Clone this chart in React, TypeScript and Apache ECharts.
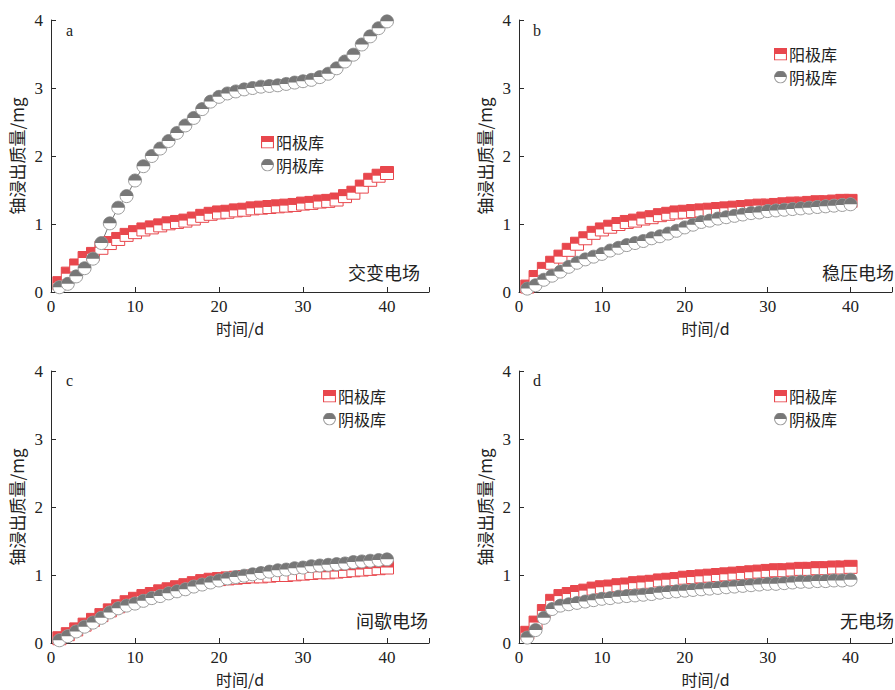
import React, { useEffect, useRef } from "react";
import * as echarts from "echarts";

const days = [1, 2, 3, 4, 5, 6, 7, 8, 9, 10, 11, 12, 13, 14, 15, 16, 17, 18, 19, 20, 21, 22, 23, 24, 25, 26, 27, 28, 29, 30, 31, 32, 33, 34, 35, 36, 37, 38, 39, 40];

const xTicks = [0, 10, 20, 30, 40];
const yTicks = [0, 1, 2, 3, 4];

const anodeA = [0.13, 0.27, 0.39, 0.5, 0.56, 0.65, 0.72, 0.78, 0.84, 0.88, 0.92, 0.95, 0.98, 1.01, 1.03, 1.05, 1.08, 1.12, 1.15, 1.17, 1.18, 1.2, 1.21, 1.23, 1.24, 1.25, 1.26, 1.27, 1.28, 1.3, 1.31, 1.33, 1.34, 1.36, 1.41, 1.46, 1.55, 1.65, 1.71, 1.75];
const cathodeA = [0.07, 0.12, 0.23, 0.35, 0.49, 0.72, 1.01, 1.24, 1.41, 1.64, 1.85, 2.0, 2.11, 2.22, 2.34, 2.45, 2.56, 2.69, 2.8, 2.87, 2.92, 2.95, 2.98, 3.0, 3.02, 3.03, 3.04, 3.06, 3.08, 3.1, 3.12, 3.16, 3.21, 3.29, 3.39, 3.49, 3.64, 3.76, 3.88, 3.98];

const anodeB = [0.08, 0.22, 0.34, 0.43, 0.52, 0.62, 0.71, 0.79, 0.87, 0.92, 0.96, 1.0, 1.03, 1.05, 1.08, 1.1, 1.13, 1.15, 1.17, 1.18, 1.19, 1.2, 1.21, 1.22, 1.23, 1.24, 1.25, 1.26, 1.27, 1.27, 1.28, 1.29, 1.3, 1.3, 1.31, 1.32, 1.32, 1.33, 1.34, 1.34];
const cathodeB = [0.05, 0.1, 0.18, 0.24, 0.3, 0.37, 0.43, 0.48, 0.52, 0.56, 0.61, 0.65, 0.69, 0.72, 0.75, 0.79, 0.82, 0.86, 0.9, 0.95, 0.99, 1.03, 1.05, 1.08, 1.1, 1.12, 1.14, 1.16, 1.17, 1.19, 1.2, 1.21, 1.22, 1.23, 1.24, 1.25, 1.26, 1.27, 1.28, 1.29];

const anodeC = [0.07, 0.13, 0.2, 0.27, 0.34, 0.41, 0.48, 0.54, 0.6, 0.65, 0.69, 0.72, 0.76, 0.79, 0.82, 0.85, 0.88, 0.91, 0.93, 0.94, 0.95, 0.96, 0.97, 0.98, 0.98, 0.99, 1.0, 1.0, 1.01, 1.02, 1.03, 1.04, 1.04, 1.05, 1.06, 1.07, 1.08, 1.09, 1.1, 1.11];
const cathodeC = [0.04, 0.1, 0.17, 0.24, 0.3, 0.37, 0.45, 0.51, 0.55, 0.58, 0.62, 0.66, 0.69, 0.73, 0.76, 0.79, 0.83, 0.86, 0.89, 0.92, 0.95, 0.97, 0.99, 1.01, 1.03, 1.05, 1.07, 1.08, 1.1, 1.11, 1.13, 1.14, 1.15, 1.16, 1.17, 1.19, 1.2, 1.21, 1.22, 1.23];

const anodeD = [0.15, 0.3, 0.47, 0.62, 0.69, 0.72, 0.75, 0.77, 0.8, 0.82, 0.83, 0.85, 0.86, 0.88, 0.89, 0.9, 0.92, 0.93, 0.94, 0.96, 0.97, 0.98, 0.99, 1.0, 1.01, 1.02, 1.03, 1.04, 1.05, 1.06, 1.07, 1.07, 1.08, 1.09, 1.09, 1.1, 1.1, 1.11, 1.11, 1.12];
const cathodeD = [0.08, 0.19, 0.37, 0.5, 0.55, 0.57, 0.59, 0.61, 0.63, 0.65, 0.66, 0.68, 0.69, 0.7, 0.71, 0.72, 0.74, 0.75, 0.76, 0.77, 0.78, 0.79, 0.8, 0.81, 0.82, 0.83, 0.84, 0.85, 0.86, 0.87, 0.87, 0.88, 0.89, 0.9, 0.9, 0.91, 0.91, 0.92, 0.92, 0.93];

const panelLetters = ["a", "b", "c", "d"];
const panelTitles = ["交变电场", "稳压电场", "间歇电场", "无电场"];
const seriesNames = ["阳极库", "阴极库"];
const xName = "时间/d";
const yName = "铀浸出质量/mg";

const panels = [
  { anode: anodeA, cathode: cathodeA },
  { anode: anodeB, cathode: cathodeB },
  { anode: anodeC, cathode: cathodeC },
  { anode: anodeD, cathode: cathodeD },
];

const RED = "#E8474D";
const GRAY = "#777777";
const CIRCLE_EDGE = "#9C9C9C";
const AXIS = "#2a2a2a";
const TEXT = "#222222";
const SERIF = "'Liberation Serif', 'Times New Roman', 'Noto Sans CJK SC', serif";
const CJK = "'Noto Sans CJK SC', 'Liberation Serif', sans-serif";

const MS = 13;

const svgUrl = (s: string) => "image://data:image/svg+xml;charset=utf-8," + encodeURIComponent(s);
const squareIcon = svgUrl(
  `<svg xmlns='http://www.w3.org/2000/svg' width='24' height='24' viewBox='0 0 24 24'><rect x='1' y='1' width='22' height='22' fill='white' stroke='${RED}' stroke-width='2'/><rect x='0' y='0' width='24' height='12' fill='${RED}'/></svg>`
);
const circleIcon = svgUrl(
  `<svg xmlns='http://www.w3.org/2000/svg' width='24' height='24' viewBox='0 0 24 24'><circle cx='12' cy='12' r='11' fill='white' stroke='${CIRCLE_EDGE}' stroke-width='2'/><path d='M1,12 A11,11 0 0 1 23,12 Z' fill='${GRAY}'/></svg>`
);

const renderSquare = (params: any, api: any) => {
  const p = api.coord([api.value(0), api.value(1)]);
  return {
    type: "group",
    children: [
      { type: "rect", shape: { x: p[0] - MS / 2, y: p[1] - MS / 2, width: MS, height: MS }, style: { fill: "#fff", stroke: RED, lineWidth: 1 } },
      { type: "rect", shape: { x: p[0] - MS / 2, y: p[1] - MS / 2, width: MS, height: MS / 2 }, style: { fill: RED } },
    ],
  };
};

const renderCircle = (params: any, api: any) => {
  const p = api.coord([api.value(0), api.value(1)]);
  const r = MS / 2;
  return {
    type: "group",
    children: [
      { type: "circle", shape: { cx: p[0], cy: p[1], r }, style: { fill: "#fff", stroke: CIRCLE_EDGE, lineWidth: 1 } },
      { type: "sector", shape: { cx: p[0], cy: p[1], r0: 0, r, startAngle: Math.PI, endAngle: Math.PI * 2 }, style: { fill: GRAY } },
    ],
  };
};

const grids = [
  { left: 51, top: 20 },
  { left: 519, top: 20 },
  { left: 51, top: 371 },
  { left: 519, top: 371 },
];
const legendPos = [
  { left: 256, top: 129 },
  { left: 769, top: 41 },
  { left: 318, top: 383 },
  { left: 769, top: 383 },
];
const letterPos = [
  [66, 32],
  [533, 32],
  [66, 382],
  [533, 382],
];
const titlePos = [
  { x: 420, y: 272, align: "right" },
  { x: 822, y: 272, align: "left" },
  { x: 428, y: 620, align: "right" },
  { x: 840, y: 620, align: "left" },
];

export default function App() {
  const ref = useRef<HTMLDivElement>(null);
  useEffect(() => {
    if (!ref.current) return;
    const chart = echarts.init(ref.current, null, { renderer: "svg" });

    const series: any[] = [];
    panels.forEach((pn, k) => {
      const aData = days.map((d, i) => [d, pn.anode[i]]);
      const cData = days.map((d, i) => [d, pn.cathode[i]]);
      series.push({
        type: "line",
        name: seriesNames[1],
        xAxisIndex: k,
        yAxisIndex: k,
        data: cData,
        symbol: "none",
        lineStyle: { color: GRAY, width: 1 },
        silent: true,
        z: 1,
      });
      series.push({
        type: "custom",
        name: seriesNames[0],
        xAxisIndex: k,
        yAxisIndex: k,
        data: aData,
        renderItem: renderSquare,
        clip: false,
        z: 2,
      });
      series.push({
        type: "custom",
        name: seriesNames[1],
        xAxisIndex: k,
        yAxisIndex: k,
        data: cData,
        renderItem: renderCircle,
        clip: false,
        z: 3,
      });
    });

    const option: any = {
      animation: false,
      backgroundColor: "#ffffff",
      grid: grids.map((g) => ({ left: g.left, top: g.top, width: 378, height: 272, containLabel: false })),
      xAxis: grids.map((g, k) => ({
        type: "value",
        gridIndex: k,
        min: xTicks[0],
        max: 45,
        interval: 10,
        name: xName,
        nameLocation: "middle",
        nameGap: 28,
        nameTextStyle: { fontFamily: CJK, fontSize: 16, color: TEXT, lineHeight: 16 },
        axisLine: { show: true, onZero: false, lineStyle: { color: AXIS, width: 1 } },
        axisTick: { show: true, inside: true, length: 5, lineStyle: { color: AXIS } },
        axisLabel: {
          show: true,
          margin: 6,
          fontFamily: SERIF,
          fontSize: 17,
          color: TEXT,
          formatter: (v: number) => (xTicks.indexOf(v) >= 0 ? String(v) : ""),
        },
        splitLine: { show: false },
      })),
      yAxis: grids.map((g, k) => ({
        type: "value",
        gridIndex: k,
        min: yTicks[0],
        max: yTicks[yTicks.length - 1],
        interval: 1,
        name: yName,
        nameLocation: "middle",
        nameGap: 26,
        nameTextStyle: { fontFamily: CJK, fontSize: 17, color: TEXT },
        axisLine: { show: true, onZero: false, lineStyle: { color: AXIS, width: 1 } },
        axisTick: { show: true, inside: true, length: 5, lineStyle: { color: AXIS } },
        axisLabel: { show: true, margin: 8, fontFamily: SERIF, fontSize: 17, color: TEXT },
        splitLine: { show: false },
      })),
      legend: legendPos.map((lp) => ({
        left: lp.left,
        top: lp.top,
        orient: "vertical",
        itemWidth: 13,
        itemHeight: 13,
        itemGap: 7,
        selectedMode: false,
        textStyle: { fontFamily: CJK, fontSize: 16, color: TEXT, lineHeight: 16, padding: [0, 0, 0, -3] },
        data: [
          { name: seriesNames[0], icon: squareIcon },
          { name: seriesNames[1], icon: circleIcon },
        ],
      })),
      graphic: [
        ...panelLetters.map((t, k) => ({
          type: "text",
          left: letterPos[k][0],
          top: letterPos[k][1] - 10,
          style: { text: t, font: `16px ${SERIF}`, fill: TEXT },
        })),
        ...panelTitles.map((t, k) => ({
          type: "text",
          x: titlePos[k].x,
          y: titlePos[k].y,
          style: {
            text: t,
            font: `18px ${CJK}`,
            fill: TEXT,
            textAlign: titlePos[k].align,
            textVerticalAlign: "middle",
          },
        })),
      ],
      series,
    };
    chart.setOption(option);
    return () => chart.dispose();
  }, []);
  return (
    <div
      ref={ref}
      style={{ position: "absolute", left: 0, top: 0, width: 895, height: 690, background: "#fff" }}
    />
  );
}
